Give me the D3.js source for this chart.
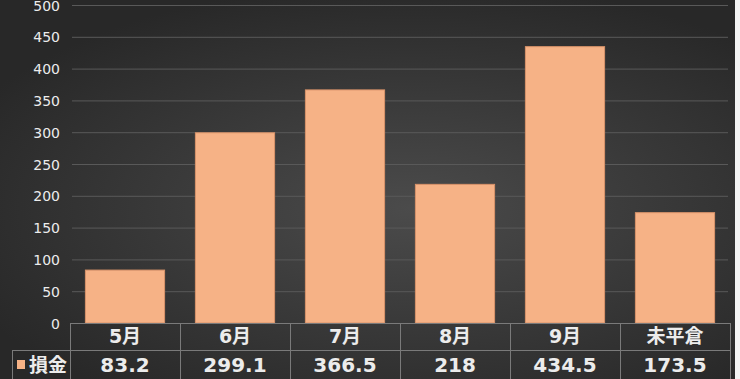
<!DOCTYPE html>
<html>
<head>
<meta charset="utf-8">
<script src="https://cdn.jsdelivr.net/npm/d3@7"></script>
<style>
  html, body { margin: 0; padding: 0; background: #fff; }
  svg { display: block; }
</style>
</head>
<body>
<svg id="chart" width="740" height="379"></svg>
<script>
// data
var categories = ["5月", "6月", "7月", "8月", "9月", "未平倉"];
var values = [83.2, 299.1, 366.5, 218, 434.5, 173.5];
var valueLabels = ["83.2", "299.1", "366.5", "218", "434.5", "173.5"];
var seriesName = "損金";
var yTicks = [0, 50, 100, 150, 200, 250, 300, 350, 400, 450, 500];

var W = 740, H = 379;
var plot = { left: 70, right: 730, top: 5, bottom: 323 };
var rowH1 = 27, rowH2 = 30;

var svg = d3.select("#chart");

var defs = svg.append("defs");
var grad = defs.append("radialGradient")
    .attr("id", "bg")
    .attr("cx", "55%").attr("cy", "55%").attr("r", "60%")
    .attr("gradientTransform", "translate(-0.05,0) scale(1.1,1)");
grad.append("stop").attr("offset", "0%").attr("stop-color", "#4b4b4b");
grad.append("stop").attr("offset", "100%").attr("stop-color", "#282828");

svg.append("rect").attr("width", W).attr("height", H).attr("fill", "url(#bg)");
// thin white edge on the right side of the picture
svg.append("rect").attr("x", 735).attr("y", 0).attr("width", 5).attr("height", H).attr("fill", "#f4f4f4");

var x = d3.scaleBand()
    .domain(categories)
    .range([plot.left, plot.right])
    .paddingInner(0.28)
    .paddingOuter(0.14);

var xCell = d3.scaleBand()
    .domain(categories)
    .range([plot.left, plot.right]);

var y = d3.scaleLinear()
    .domain([0, 500])
    .range([plot.bottom, plot.top]);

// grid lines
svg.append("g")
    .selectAll("line")
    .data(yTicks.filter(function (d) { return d > 0; }))
    .join("line")
    .attr("x1", plot.left + 2)
    .attr("x2", plot.right - 2)
    .attr("y1", function (d) { return y(d) + 0.5; })
    .attr("y2", function (d) { return y(d) + 0.5; })
    .attr("stroke", "#595959")
    .attr("stroke-width", 1);

var numFont = "'DejaVu Sans', 'Noto Sans CJK JP', sans-serif";
var textFont = "'Noto Sans CJK JP', 'Noto Sans', sans-serif";

// y axis labels
var yAxis = d3.axisLeft(y).tickValues(yTicks).tickSize(0).tickPadding(0);
var gy = svg.append("g")
    .attr("transform", "translate(60,0)")
    .call(yAxis);
gy.select(".domain").remove();
gy.selectAll("text")
    .attr("fill", "#ececec")
    .attr("font-family", numFont)
    .attr("font-size", 14)
    .attr("dy", "0.36em");

// bars
svg.append("g")
    .selectAll("rect")
    .data(values)
    .join("rect")
    .attr("x", function (d, i) { return x(categories[i]); })
    .attr("y", function (d) { return y(d); })
    .attr("width", x.bandwidth())
    .attr("height", function (d) { return y(0) - y(d); })
    .attr("fill", "#f6b286")
    .attr("stroke", "#d9936a")
    .attr("stroke-width", 1);

// data table
var table = svg.append("g");
var lineColor = "#7a7a7a";
var rowTop = plot.bottom, rowMid = plot.bottom + rowH1, rowBot = rowMid + rowH2;

table.append("line")
    .attr("x1", plot.left).attr("x2", plot.right)
    .attr("y1", rowTop + 0.5).attr("y2", rowTop + 0.5)
    .attr("stroke", lineColor);
table.append("line")
    .attr("x1", 12).attr("x2", plot.right)
    .attr("y1", rowMid + 0.5).attr("y2", rowMid + 0.5)
    .attr("stroke", lineColor);
table.append("line")
    .attr("x1", 12.5).attr("x2", 12.5)
    .attr("y1", rowMid).attr("y2", rowBot)
    .attr("stroke", lineColor);

var cellEdges = categories.map(function (c) { return xCell(c); }).concat([plot.right]);
table.selectAll("line.v")
    .data(cellEdges)
    .join("line")
    .attr("class", "v")
    .attr("x1", function (d) { return Math.round(d) + 0.5; })
    .attr("x2", function (d) { return Math.round(d) + 0.5; })
    .attr("y1", rowTop)
    .attr("y2", rowBot)
    .attr("stroke", lineColor);

table.selectAll("text.cat")
    .data(categories)
    .join("text")
    .attr("class", "cat")
    .attr("x", function (d) { return xCell(d) + xCell.bandwidth() / 2; })
    .attr("y", rowTop + rowH1 / 2)
    .attr("dy", "0.36em")
    .attr("text-anchor", "middle")
    .attr("fill", "#ececec")
    .attr("font-family", numFont)
    .attr("font-weight", "bold")
    .attr("font-size", 19)
    .text(function (d) { return d; });

table.selectAll("text.val")
    .data(valueLabels)
    .join("text")
    .attr("class", "val")
    .attr("x", function (d, i) { return xCell(categories[i]) + xCell.bandwidth() / 2; })
    .attr("y", rowMid + rowH2 / 2)
    .attr("dy", "0.36em")
    .attr("text-anchor", "middle")
    .attr("fill", "#ececec")
    .attr("font-family", numFont)
    .attr("font-weight", "bold")
    .attr("font-size", 20)
    .text(function (d) { return d; });

// legend key in the table
table.append("rect")
    .attr("x", 17).attr("y", rowMid + 10)
    .attr("width", 8).attr("height", 9)
    .attr("fill", "#f6b286");
table.append("text")
    .attr("x", 29)
    .attr("y", rowMid + rowH2 / 2)
    .attr("dy", "0.36em")
    .attr("fill", "#ececec")
    .attr("font-family", textFont)
    .attr("font-weight", "bold")
    .attr("font-size", 19)
    .text(seriesName);
</script>
</body>
</html>
